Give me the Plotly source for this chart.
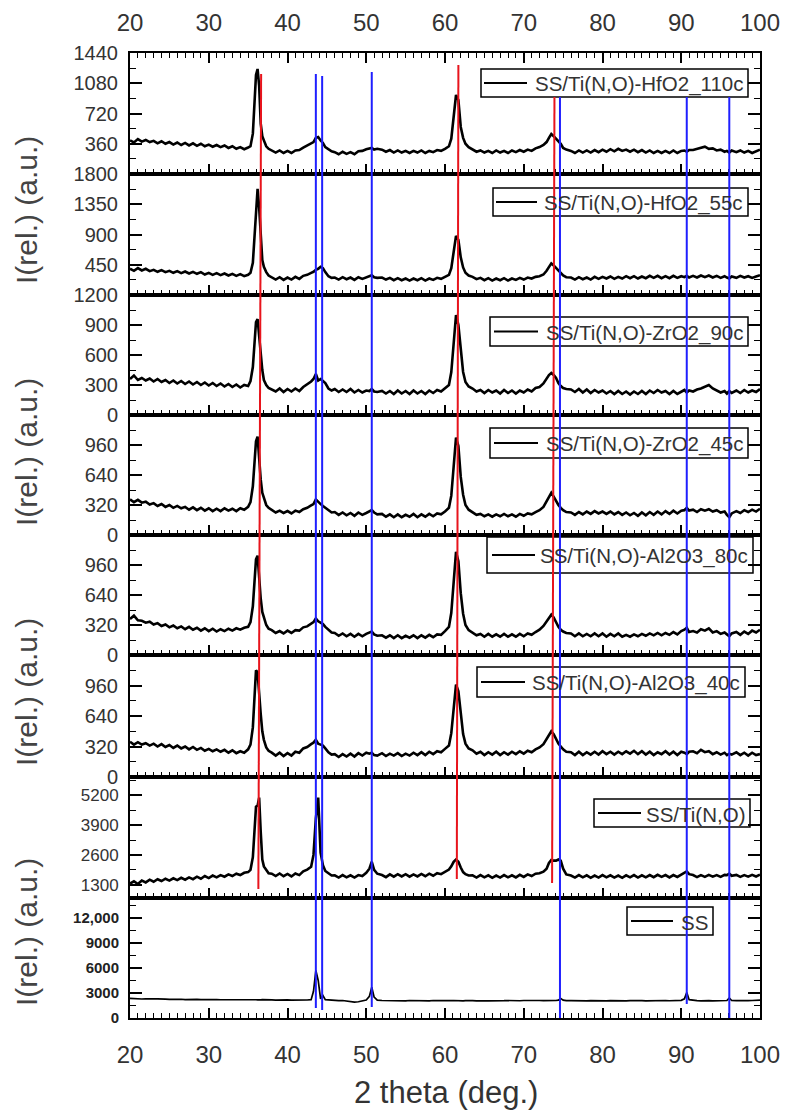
import plotly.graph_objects as go

# ---------------- data ----------------
two_theta = [
    20, 20.5, 21, 21.5, 22, 22.5, 23, 23.5, 24, 24.5, 25, 25.5, 26, 26.5, 27, 27.5, 28, 28.5, 29, 29.5, 30, 30.5, 31, 31.5, 32, 32.5, 33, 33.5, 34, 34.5, 35,
    35.3, 35.6, 35.8, 36.0, 36.2, 36.4, 36.6, 36.8, 37.0, 37.3, 37.6,
    38, 38.5, 39, 39.5, 40, 40.5, 41, 41.5, 42, 42.5, 43,
    43.3, 43.6, 43.9, 44.2, 44.5, 44.8, 45.2, 45.6,
    46, 46.5, 47, 47.5, 48, 48.5, 49, 49.5, 50,
    50.4, 50.7, 51.0, 51.4,
    52, 52.5, 53, 53.5, 54, 54.5, 55, 55.5, 56, 56.5, 57, 57.5, 58, 58.5, 59, 59.5, 60, 60.5,
    60.8, 61.1, 61.4, 61.7, 62.0, 62.3, 62.6, 63.0,
    63.5, 64, 64.5, 65, 65.5, 66, 66.5, 67, 67.5, 68, 68.5, 69, 69.5, 70, 70.5, 71, 71.5, 72, 72.5,
    72.9, 73.2, 73.5, 73.8, 74.1, 74.4, 74.7, 75.0, 75.4,
    76, 76.5, 77, 77.5, 78, 78.5, 79, 79.5, 80, 80.5, 81, 81.5, 82, 82.5, 83, 83.5, 84, 84.5, 85, 85.5, 86, 86.5, 87, 87.5, 88, 88.5, 89, 89.5, 90,
    90.4, 90.7, 91.0,
    91.5, 92, 92.5, 93, 93.5, 94, 94.5, 95, 95.5,
    95.8, 96.1, 96.4,
    97, 97.5, 98, 98.5, 99, 99.5, 100,
]

hfo2_110c = [
    400, 375, 415, 385, 405, 380, 395, 365, 390, 360, 380, 350, 375, 345, 370, 340, 365, 335, 360, 330, 350, 325, 345, 320, 340, 310, 330, 300, 320, 295, 315,
    330, 480, 800, 1180, 1250, 1050, 600, 450, 400, 330, 300,
    280, 255, 280, 250, 275, 250, 280, 285, 315, 340, 365,
    380, 430, 440, 400, 370, 320, 290, 270,
    260, 235, 265, 240, 260, 235, 270, 275, 295,
    300, 310, 290, 300,
    290, 265, 285, 255, 280, 255, 275, 250, 275, 255, 280, 250, 275, 260, 285, 275, 300, 330,
    420, 700, 940, 880, 560, 430, 360, 320,
    290, 265, 280, 255, 275, 250, 280, 255, 275, 250, 280, 260, 285, 265, 290, 275, 305, 320, 345,
    380, 430, 475, 450, 420, 400, 360, 310, 290,
    275, 250, 280, 255, 280, 255, 285, 260, 290, 265, 295, 270, 300, 275, 290, 265, 290, 260, 285, 255, 280, 250, 275, 250, 275, 250, 280, 250, 275,
    280, 265, 285,
    285, 300, 315, 325, 300, 305, 280, 290, 265,
    275, 255, 280,
    260, 280, 255, 275, 250, 270, 290,
]

hfo2_55c = [
    390, 360, 400, 365, 390, 355, 375, 345, 370, 340, 360, 330, 355, 325, 350, 320, 345, 315, 340, 305, 330, 300, 325, 295, 320, 290, 315, 285, 310, 280, 300,
    330, 480, 900, 1350, 1580, 1300, 850, 520, 420, 340, 290,
    260, 230, 265, 225, 260, 230, 270, 240, 285, 300, 330,
    345, 375, 390, 420, 400, 340, 280, 255,
    260, 230, 265, 235, 260, 225, 265, 240, 265,
    275, 295, 265, 255,
    260, 230, 255, 220, 250, 220, 245, 215, 245, 220, 250, 215, 245, 225, 255, 240, 270, 300,
    400, 650, 880, 820, 560, 410, 330, 290,
    270, 235, 255, 220, 250, 215, 245, 220, 250, 215, 245, 225, 255, 230, 260, 245, 270, 280, 305,
    360, 420, 470, 440, 400, 360, 320, 290, 265,
    260, 230, 265, 235, 260, 230, 270, 240, 270, 245, 275, 240, 270, 245, 280, 250, 280, 245, 275, 250, 285, 255, 285, 250, 280, 250, 285, 255, 280,
    265, 285, 260,
    285, 260, 290, 265, 290, 260, 285, 255, 280,
    260, 245, 275,
    255, 285, 260, 280, 255, 275, 295,
]

zro2_90c = [
    360, 395, 350, 370, 345, 365, 335, 360, 330, 350, 320, 345, 315, 340, 310, 335, 305, 330, 300, 325, 295, 320, 290, 315, 285, 310, 280, 305, 275, 300, 290,
    340, 480, 700, 930, 960, 760, 620, 450, 350, 300, 270,
    255, 235, 265, 230, 260, 235, 265, 240, 280, 305, 335,
    360, 410, 345, 360, 340, 320, 265, 245,
    260, 230, 255, 230, 260, 225, 250, 225, 245,
    240, 260, 235, 230,
    240, 215, 240, 210, 245, 215, 240, 210, 245, 215, 240, 210, 245, 220, 250, 235, 265, 300,
    430, 720, 1000, 900, 640, 430, 330, 285,
    265, 235, 250, 220, 250, 225, 245, 215, 250, 220, 245, 215, 245, 225, 255, 235, 270, 280, 315,
    360, 400, 420, 400, 370, 320, 290, 270, 260,
    255, 230, 260, 225, 255, 220, 250, 225, 245, 215, 240, 210, 240, 210, 235, 205, 235, 210, 240, 210, 245, 220, 250, 225, 240, 210, 240, 210, 235,
    250, 225, 245,
    235, 255, 265, 285, 300, 265, 245, 225, 240,
    215, 240, 220,
    245, 220, 250, 225, 245, 230, 260,
]

zro2_45c = [
    380, 350, 375, 345, 355, 325, 340, 310, 330, 300, 320, 290, 310, 285, 300, 270, 295, 265, 290, 260, 285, 255, 280, 255, 285, 260, 280, 255, 285, 270, 300,
    350, 520, 780, 1000, 1050, 800, 590, 450, 390, 320, 290,
    270, 240, 260, 235, 255, 230, 260, 245, 275, 290, 315,
    330, 380, 350, 330, 310, 290, 260, 240,
    245, 215, 240, 210, 235, 205, 240, 215, 235,
    250, 265, 240, 220,
    225, 195, 220, 190, 220, 190, 215, 195, 225, 190, 220, 195, 225, 200, 230, 220, 250, 290,
    420, 750, 1040, 950, 620, 430, 320, 270,
    245, 215, 225, 200, 220, 195, 220, 200, 225, 200, 220, 195, 225, 205, 230, 220, 245, 265, 300,
    360, 410, 450, 410, 360, 320, 290, 265, 245,
    240, 215, 245, 220, 250, 225, 255, 230, 250, 225, 250, 220, 245, 215, 240, 210, 235, 205, 240, 210, 245, 215, 250, 220, 255, 225, 260, 230, 260,
    265, 290, 260,
    270, 245, 275, 260, 275, 250, 265, 240, 250,
    215, 190, 230,
    255, 235, 265, 245, 270, 250, 280,
]

al2o3_80c = [
    385, 420, 370, 365, 345, 355, 325, 340, 310, 325, 295, 315, 285, 305, 275, 300, 270, 290, 260, 285, 255, 280, 250, 275, 255, 280, 260, 285, 270, 290, 300,
    350, 520, 800, 1020, 1060, 820, 600, 460, 400, 320, 280,
    265, 235, 255, 230, 260, 235, 265, 260, 295, 305, 335,
    350, 390, 360, 345, 330, 300, 265, 240,
    235, 205, 230, 200, 225, 195, 225, 200, 225,
    235, 250, 220, 205,
    210, 185, 210, 180, 210, 180, 205, 185, 210, 180, 210, 185, 215, 190, 220, 215, 255, 300,
    450, 800, 1100, 1000, 660, 440, 320, 265,
    240, 210, 225, 195, 225, 195, 220, 195, 225, 195, 220, 195, 225, 200, 230, 215, 245, 270, 310,
    360, 400, 430, 400, 350, 300, 270, 250, 235,
    230, 200, 230, 200, 225, 200, 230, 200, 230, 195, 225, 200, 230, 195, 215, 195, 220, 200, 225, 205, 230, 210, 235, 210, 235, 215, 245, 220, 255,
    270, 290, 245,
    255, 240, 275, 260, 285, 240, 255, 225, 240,
    220, 200, 230,
    245, 215, 250, 225, 260, 240, 270,
]

al2o3_40c = [
    370, 340, 365, 340, 355, 330, 350, 320, 345, 315, 335, 305, 330, 300, 320, 290, 315, 285, 305, 275, 295, 270, 290, 265, 285, 255, 280, 250, 270, 255, 290,
    340, 520, 850, 1120, 1100, 850, 660, 480, 390, 310, 275,
    255, 225, 255, 220, 250, 225, 265, 255, 300, 315, 345,
    360, 390, 350, 340, 330, 300, 260, 235,
    240, 210, 240, 215, 245, 215, 250, 225, 255,
    245, 255, 230, 225,
    250, 220, 245, 225, 250, 220, 245, 225, 255, 230, 260, 230, 265, 240, 270, 260, 295, 330,
    460, 750, 970, 900, 660, 450, 350, 300,
    280, 245, 265, 230, 260, 235, 265, 230, 260, 235, 265, 240, 270, 245, 275, 260, 290, 310, 345,
    400, 450, 480, 450, 400, 350, 320, 290, 265,
    260, 230, 265, 230, 260, 235, 265, 235, 270, 240, 265, 235, 265, 240, 270, 245, 275, 240, 270, 235, 265, 230, 260, 240, 270, 235, 265, 230, 265,
    255, 240, 265,
    270, 250, 285, 260, 270, 240, 260, 235, 255,
    230, 245, 235,
    260, 230, 255, 225, 255, 230, 240,
]

ss_tino = [
    1350, 1450, 1330, 1480, 1400, 1520, 1430, 1540, 1460, 1560, 1480, 1580, 1500, 1600, 1520, 1620, 1540, 1650, 1560, 1680, 1590, 1700, 1620, 1720, 1650, 1750, 1680, 1780, 1720, 1820, 1850,
    1950, 2500, 3400, 4700, 4750, 5100, 3600, 2400, 2100, 1950, 1800,
    1780, 1680, 1790, 1670, 1770, 1660, 1790, 1720, 1880, 1960, 2080,
    2600, 4200, 5100, 2700, 2150, 1900, 1780, 1700,
    1710, 1610, 1720, 1620, 1710, 1610, 1720, 1680, 1820,
    2000, 2300, 1950, 1780,
    1720, 1630, 1750, 1650, 1760, 1660, 1760, 1650, 1750, 1660, 1770, 1670, 1780, 1690, 1800, 1760, 1870, 1960,
    2100, 2300, 2400, 2300, 2050, 1850, 1760, 1700,
    1710, 1610, 1720, 1620, 1710, 1600, 1700, 1610, 1720, 1620, 1710, 1620, 1730, 1640, 1750, 1680, 1780, 1800, 1870,
    2000, 2250, 2380, 2350, 2350, 2400, 2350, 2000, 1750,
    1700, 1610, 1720, 1620, 1710, 1600, 1700, 1610, 1720, 1620, 1710, 1610, 1700, 1600, 1710, 1620, 1720, 1610, 1710, 1620, 1720, 1630, 1730, 1640, 1720, 1620, 1720, 1640, 1740,
    1800, 1880, 1760,
    1720, 1630, 1720, 1640, 1730, 1650, 1720, 1640, 1730,
    1720, 1780, 1690,
    1730, 1640, 1720, 1650, 1730, 1660, 1740,
]

ss = [
    2350, 2300, 2330, 2280, 2310, 2260, 2290, 2300, 2250, 2270, 2240, 2260, 2230, 2250, 2200, 2230, 2220, 2240, 2200, 2220, 2180, 2200, 2220, 2190, 2200, 2180, 2210, 2190, 2200, 2180, 2200,
    2200, 2180, 2200, 2190, 2180, 2150, 2180, 2200, 2180, 2190, 2180,
    2170, 2150, 2180, 2160, 2170, 2150, 2140, 2200, 2180, 2160, 2200,
    3200, 5700, 4500, 2300, 2700, 2200, 2150, 2100,
    2100, 2080, 2100, 2050, 2000, 1900, 1950, 2050, 2150,
    2600, 3700, 2500, 2150,
    2100, 2080, 2100, 2060, 2100, 2080, 2050, 2100, 2080, 2060, 2100, 2080, 2060, 2100, 2080, 2060, 2100, 2090,
    2080, 2100, 2070, 2080, 2100, 2060, 2080, 2100,
    2080, 2060, 2100, 2070, 2050, 2080, 2100, 2060, 2080, 2100, 2060, 2080, 2070, 2100, 2080, 2060, 2080, 2100, 2090,
    2080, 2100, 2060, 2080, 2100, 2150, 2350, 2150, 2080,
    2080, 2060, 2080, 2100, 2050, 2080, 2060, 2100, 2080, 2050, 2080, 2060, 2100, 2070, 2060, 2080, 2100, 2060, 2080, 2050, 2070, 2090, 2060, 2080, 2100, 2070, 2080, 2100, 2120,
    2300, 3050, 2200,
    2100, 2080, 2060, 2100, 2080, 2050, 2080, 2100, 2080,
    2100, 2400, 2100,
    2080, 2060, 2100, 2080, 2100, 2120, 2150,
]

series_names = [
    "SS/Ti(N,O)-HfO2_110c", "SS/Ti(N,O)-HfO2_55c", "SS/Ti(N,O)-ZrO2_90c", "SS/Ti(N,O)-ZrO2_45c",
    "SS/Ti(N,O)-Al2O3_80c", "SS/Ti(N,O)-Al2O3_40c", "SS/Ti(N,O)", "SS",
]
series_values = [hfo2_110c, hfo2_55c, zro2_90c, zro2_45c, al2o3_80c, al2o3_40c, ss_tino, ss]

y_ranges = [[0, 1440], [0, 1800], [0, 1200], [0, 1280], [0, 1280], [0, 1280], [720, 6000], [0, 14400]]
y_tickvals = [
    [360, 720, 1080, 1440], [450, 900, 1350, 1800], [0, 300, 600, 900, 1200], [0, 320, 640, 960],
    [0, 320, 640, 960], [0, 320, 640, 960], [1300, 2600, 3900, 5200], [0, 3000, 6000, 9000, 12000],
]
y_ticktext = [
    ["360", "720", "1080", "1440"], ["450", "900", "1350", "1800"], ["0", "300", "600", "900", "1200"],
    ["0", "320", "640", "960"], ["0", "320", "640", "960"], ["0", "320", "640", "960"],
    ["1300", "2600", "3900", "5200"], ["0", "3000", "6000", "9000", "12,000"],
]
y_minorvals = [
    [180, 540, 900, 1260], [225, 675, 1125, 1575], [150, 450, 750, 1050], [160, 480, 800, 1120],
    [160, 480, 800, 1120], [160, 480, 800, 1120], [1950, 3250, 4550, 5850], [1500, 4500, 7500, 10500, 13500],
]
x_ticks = [20, 30, 40, 50, 60, 70, 80, 90, 100]

red_lines_top = [36.65, 61.7, 73.9]
red_lines_bottom = [36.3, 61.5, 73.6]
blue_lines = [43.6, 44.4, 50.7, 74.6, 90.7, 96.1]

for v in series_values:
    assert len(v) == len(two_theta), (len(v), len(two_theta))

# ---------------- layout geometry (page pixels; page body has an 8px margin) ----------------
OFF = 8
W, H = 790 - OFF, 1117 - OFF
PL, PR, PT, PB = 130, 760, 53, 1018          # plot area on the page
ML, MR, MT, MB = PL - OFF, W - (PR - OFF), PT - OFF, H - (PB - OFF)
PW, PH = PR - PL, PB - PT
bounds = [53, 174, 295, 415, 535, 655, 777, 898, 1018]


def py(p):
    return (PB - p) / PH


def pxx(p):
    return (p - PL) / PW


FONT = "Liberation Sans, Arial, sans-serif"
TXT = "#333333"

fig = go.Figure()
tick_fonts = [20, 20, 20, 20, 20, 20, 17, 15]
# legend boxes: (left, right, top, bottom, line_start, line_end) in page pixels
legend_boxes = [
    (481, 748, 69, 97, 484, 527),
    (493, 748, 188, 216, 496, 537),
    (490, 748, 317, 346, 494, 538),
    (490, 748, 428, 458, 494, 538),
    (487, 753, 537, 573, 492, 535),
    (477, 745, 667, 697, 481, 525),
    (594, 750, 799, 827, 598, 641),
    (627, 713, 907, 935, 631, 673),
]

layout = {}
shapes = []
annotations = []
for i, (name, vals) in enumerate(zip(series_names, series_values)):
    k = i + 1
    xa = "x" if k == 1 else f"x{k}"
    ya = "y" if k == 1 else f"y{k}"
    fig.add_trace(go.Scatter(
        x=two_theta, y=vals, mode="lines", name=name,
        line=dict(color="black", width=1.7 if k == 8 else 2.6),
        xaxis=xa, yaxis=ya, showlegend=False,
    ))
    xkey = "xaxis" if k == 1 else f"xaxis{k}"
    ykey = "yaxis" if k == 1 else f"yaxis{k}"
    xdict = dict(
        domain=[0, 1], anchor=ya, range=[20, 100], tickmode="array", tickvals=x_ticks,
        ticks="inside", ticklen=10, tickwidth=1.5, tickcolor="black",
        showline=True, linecolor="black", linewidth=2, showgrid=False, zeroline=False,
        minor=dict(ticks="inside", dtick=1, tick0=0, ticklen=5, tickwidth=1.2, tickcolor="black", showgrid=False),
        tickfont=dict(family=FONT, size=24, color=TXT),
        showticklabels=(k == 1 or k == 8),
        mirror="ticks" if k == 1 else True,
        side="top" if k == 1 else "bottom",
        ticklabelstandoff=10 if k == 1 else 14,
    )
    if k > 1:
        xdict["matches"] = "x"
    layout[xkey] = xdict
    tf = dict(family=FONT, size=tick_fonts[i], color="#222222" if k == 8 else TXT)
    if k == 8:
        tf["weight"] = "bold"
    layout[ykey] = dict(
        domain=[py(bounds[k]), py(bounds[k - 1])], anchor=xa, range=y_ranges[i],
        tickmode="array", tickvals=y_tickvals[i], ticktext=y_ticktext[i],
        ticks="inside", ticklen=12, tickwidth=1.5, tickcolor="black",
        minor=dict(tickmode="array", tickvals=y_minorvals[i], ticks="inside", ticklen=6,
                   tickwidth=1.2, tickcolor="black", showgrid=False),
        showline=True, linecolor="black", linewidth=2, mirror="ticks",
        showgrid=False, zeroline=False, tickfont=tf, ticklabelstandoff=6,
    )
    # legend box drawn per panel
    l, r, t, b, ls, le = legend_boxes[i]
    shapes.append(dict(type="rect", xref="paper", yref="paper", x0=pxx(l), x1=pxx(r), y0=py(b), y1=py(t),
                       line=dict(color="black", width=1.5), fillcolor="rgba(0,0,0,0)", layer="above"))
    cy = (t + b) / 2
    shapes.append(dict(type="line", xref="paper", yref="paper", x0=pxx(ls), x1=pxx(le), y0=py(cy), y1=py(cy),
                       line=dict(color="black", width=2)))
    annotations.append(dict(text=name, x=pxx(r - 3), y=py(cy + 1), xref="paper", yref="paper",
                            showarrow=False, xanchor="right", yanchor="middle",
                            font=dict(family=FONT, size=20.5, color=TXT)))

red_ext = {36.65: (74, 889), 61.7: (65, 879), 73.9: (97, 883)}
for xt, xb in zip(red_lines_top, red_lines_bottom):
    t, b = red_ext[xt]
    shapes.append(dict(type="line", xref="x", yref="paper", x0=xt, x1=xb, y0=py(t), y1=py(b),
                       line=dict(color="#e8141c", width=2)))
blue_ext = {43.6: (74, 1008), 44.4: (76, 1010), 50.7: (72, 1007), 74.6: (97, 1018), 90.7: (97, 1004), 96.1: (97, 1018)}
for xb in blue_lines:
    t, b = blue_ext[xb]
    shapes.append(dict(type="line", xref="x", yref="paper", x0=xb, x1=xb, y0=py(t), y1=py(b),
                       line=dict(color="#1f1fff", width=2)))

for cy in [210, 452, 692, 932]:
    annotations.append(dict(text="I(rel.) (a.u.)", x=pxx(26), y=py(cy), xref="paper", yref="paper",
                            showarrow=False, textangle=-90, xanchor="center", yanchor="middle",
                            font=dict(family=FONT, size=30, color="#444444")))
annotations.append(dict(text="2 theta (deg.)", x=pxx(446), y=py(1092), xref="paper", yref="paper",
                        showarrow=False, xanchor="center", yanchor="middle",
                        font=dict(family=FONT, size=31, color="#333333")))

fig.update_layout(
    width=W, height=H, margin=dict(l=ML, r=MR, t=MT, b=MB, autoexpand=False),
    paper_bgcolor="white", plot_bgcolor="white", showlegend=False,
    shapes=shapes, annotations=annotations, **layout,
)

fig.write_html("out.html")
